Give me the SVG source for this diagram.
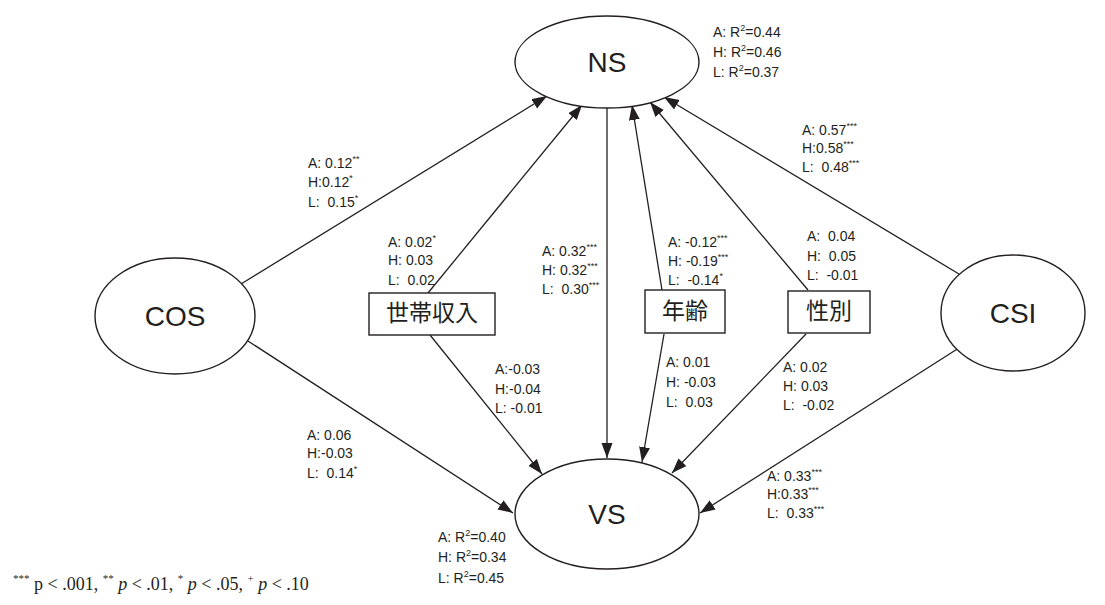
<svg xmlns="http://www.w3.org/2000/svg" width="1105" height="605" viewBox="0 0 1105 605">
<style>
.bg{fill:#ffffff}
.node{fill:#ffffff;stroke:#231f20;stroke-width:1.4}
.box{fill:#ffffff;stroke:#231f20;stroke-width:1.4}
.big{font-family:"Liberation Sans",Arial,sans-serif;font-size:28px;fill:#231f20;text-anchor:middle}
.cjk{font-family:"Noto Sans CJK JP","Noto Sans CJK SC",sans-serif;font-size:23px;fill:#231f20;text-anchor:middle}
.lab{font-family:"Liberation Sans",Arial,sans-serif;font-size:14px;fill:#231f20;white-space:pre}
.sup{font-size:9px}
.leg{font-family:"Liberation Serif","Times New Roman",serif;font-size:18px;fill:#231f20;white-space:pre}
.legsup{font-size:11px}
.conn line{stroke:#231f20;stroke-width:1.3;marker-end:url(#ah)}
</style>
<defs>
<marker id="ah" markerUnits="userSpaceOnUse" markerWidth="16" markerHeight="12" refX="15" refY="5.5" orient="auto">
<path d="M0,0 L15,5.5 L0,11 Z" fill="#231f20"/>
</marker>
</defs>
<rect class="bg" x="0" y="0" width="1105" height="605"/>

<g id="connectors" class="conn">
<line x1="241" y1="284" x2="547" y2="96"/>
<line x1="428" y1="293" x2="582" y2="105"/>
<line x1="607" y1="108" x2="607" y2="458"/>
<line x1="662" y1="290" x2="632" y2="105"/>
<line x1="808" y1="290" x2="650" y2="102"/>
<line x1="959" y1="274" x2="664" y2="97"/>
<line x1="248" y1="341" x2="513" y2="513"/>
<line x1="430" y1="335" x2="542" y2="474"/>
<line x1="664" y1="334" x2="642" y2="462"/>
<line x1="806" y1="334" x2="672" y2="473"/>
<line x1="962" y1="346" x2="700" y2="513"/>
</g>

<g id="NS">
<ellipse class="node" cx="607" cy="62" rx="92" ry="46"/>
<text class="big" x="607" y="72">NS</text>
</g>
<g id="VS">
<ellipse class="node" cx="607" cy="514" rx="92" ry="55"/>
<text class="big" x="607" y="524">VS</text>
</g>
<g id="COS">
<ellipse class="node" cx="175" cy="316" rx="80" ry="58"/>
<text class="big" x="175" y="326">COS</text>
</g>
<g id="CSI">
<ellipse class="node" cx="1013" cy="313" rx="72" ry="58"/>
<text class="big" x="1013" y="323">CSI</text>
</g>
<g id="income">
<rect class="box" x="369" y="293" width="126" height="42"/>
<text class="cjk" x="432" y="321">世帯収入</text>
</g>
<g id="age">
<rect class="box" x="645" y="290" width="80" height="43"/>
<text class="cjk" x="685" y="319">年齢</text>
</g>
<g id="sex">
<rect class="box" x="788" y="291" width="82" height="42"/>
<text class="cjk" x="829" y="319">性別</text>
</g>

<g id="labels">
<text class="lab" x="308" y="168">A: 0.12<tspan class="sup" dy="-6">**</tspan></text>
<text class="lab" x="308" y="187">H:0.12<tspan class="sup" dy="-6">*</tspan></text>
<text class="lab" x="308" y="207">L:  0.15<tspan class="sup" dy="-6">*</tspan></text>

<text class="lab" x="388" y="247">A: 0.02<tspan class="sup" dy="-6">*</tspan></text>
<text class="lab" x="388" y="265">H: 0.03</text>
<text class="lab" x="388" y="285">L:  0.02</text>

<text class="lab" x="542" y="256">A: 0.32<tspan class="sup" dy="-6">***</tspan></text>
<text class="lab" x="542" y="275">H: 0.32<tspan class="sup" dy="-6">***</tspan></text>
<text class="lab" x="542" y="294">L:  0.30<tspan class="sup" dy="-6">***</tspan></text>

<text class="lab" x="668" y="247">A: -0.12<tspan class="sup" dy="-6">***</tspan></text>
<text class="lab" x="668" y="266">H: -0.19<tspan class="sup" dy="-6">***</tspan></text>
<text class="lab" x="668" y="285">L:  -0.14<tspan class="sup" dy="-6">*</tspan></text>

<text class="lab" x="807" y="241">A:  0.04</text>
<text class="lab" x="807" y="261">H:  0.05</text>
<text class="lab" x="807" y="280">L:  -0.01</text>

<text class="lab" x="802" y="135">A: 0.57<tspan class="sup" dy="-6">***</tspan></text>
<text class="lab" x="802" y="153">H:0.58<tspan class="sup" dy="-6">***</tspan></text>
<text class="lab" x="802" y="172">L:  0.48<tspan class="sup" dy="-6">***</tspan></text>

<text class="lab" x="713" y="37">A: R<tspan class="sup" dy="-6">2</tspan><tspan dy="6">=0.44</tspan></text>
<text class="lab" x="713" y="57">H: R<tspan class="sup" dy="-6">2</tspan><tspan dy="6">=0.46</tspan></text>
<text class="lab" x="713" y="77">L: R<tspan class="sup" dy="-6">2</tspan><tspan dy="6">=0.37</tspan></text>

<text class="lab" x="495" y="374">A:-0.03</text>
<text class="lab" x="495" y="394">H:-0.04</text>
<text class="lab" x="495" y="413">L: -0.01</text>

<text class="lab" x="666" y="367">A: 0.01</text>
<text class="lab" x="666" y="387">H: -0.03</text>
<text class="lab" x="666" y="407">L:  0.03</text>

<text class="lab" x="783" y="372">A: 0.02</text>
<text class="lab" x="783" y="391">H: 0.03</text>
<text class="lab" x="783" y="410">L:  -0.02</text>

<text class="lab" x="307" y="440">A: 0.06</text>
<text class="lab" x="307" y="458">H:-0.03</text>
<text class="lab" x="307" y="478">L:  0.14<tspan class="sup" dy="-6">*</tspan></text>

<text class="lab" x="767" y="481">A: 0.33<tspan class="sup" dy="-6">***</tspan></text>
<text class="lab" x="767" y="499">H:0.33<tspan class="sup" dy="-6">***</tspan></text>
<text class="lab" x="767" y="518">L:  0.33<tspan class="sup" dy="-6">***</tspan></text>

<text class="lab" x="438" y="542">A: R<tspan class="sup" dy="-6">2</tspan><tspan dy="6">=0.40</tspan></text>
<text class="lab" x="438" y="562">H: R<tspan class="sup" dy="-6">2</tspan><tspan dy="6">=0.34</tspan></text>
<text class="lab" x="438" y="583">L: R<tspan class="sup" dy="-6">2</tspan><tspan dy="6">=0.45</tspan></text>

<text class="leg" x="13" y="590"><tspan class="legsup" dy="-8">***</tspan><tspan dy="8"> p &lt; .001, </tspan><tspan class="legsup" dy="-8">**</tspan><tspan dy="8"> </tspan><tspan font-style="italic">p</tspan> &lt; .01, <tspan class="legsup" dy="-8">*</tspan><tspan dy="8"> </tspan><tspan font-style="italic">p</tspan> &lt; .05, <tspan class="legsup" dy="-8">+</tspan><tspan dy="8"> </tspan><tspan font-style="italic">p</tspan> &lt; .10</text>
</g>
</svg>
